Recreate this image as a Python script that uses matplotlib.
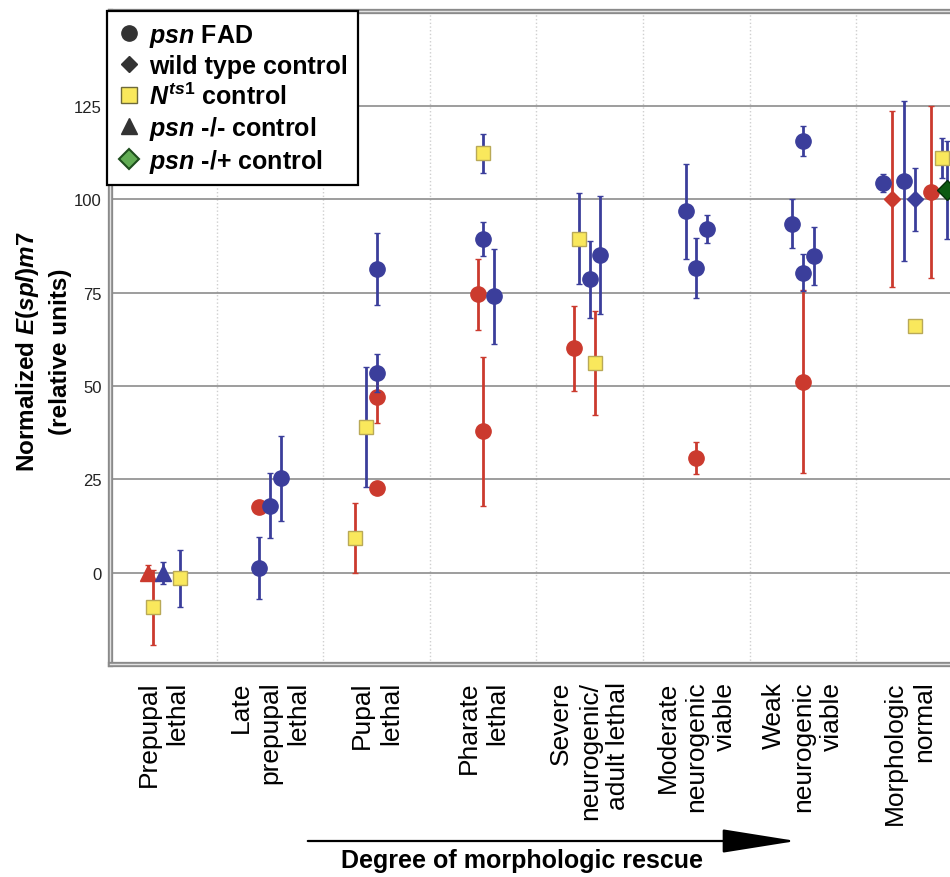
import numpy as np
import matplotlib
matplotlib.use('Agg')
import matplotlib.pyplot as plt
import matplotlib.patheffects as pe
from matplotlib.lines import Line2D

plt.rcParams['font.family'] = 'Liberation Sans'
plt.rcParams['mathtext.fontset'] = 'custom'
plt.rcParams['mathtext.it'] = 'Liberation Sans:italic:bold'
plt.rcParams['mathtext.rm'] = 'Liberation Sans:bold'
plt.rcParams['mathtext.bf'] = 'Liberation Sans:bold'

# --- data ---
categories = ['Prepupal\nlethal', 'Late\nprepupal\nlethal', 'Pupal\nlethal',
              'Pharate\nlethal', 'Severe\nneurogenic/\nadult lethal',
              'Moderate\nneurogenic\nviable', 'Weak\nneurogenic\nviable',
              'Morphologic\nnormal']
y_ticks = [0, 25, 50, 75, 100, 125]

# psn FAD, red
red_cat = [1, 2, 2, 3, 3, 4, 5, 6, 7]
red_val = [17.6, 22.6, 47.0, 74.6, 37.9, 60.1, 30.7, 51.2, 102.0]
red_err = [1.0, 0.0, 7.0, 9.5, 20.0, 11.3, 4.2, 24.4, 23.0]

# psn FAD, blue
blue_cat = [1, 1, 1, 2, 2, 3, 3, 4, 4, 5, 5, 5, 6, 6, 6, 6, 7, 7]
blue_val = [1.3, 18.0, 25.3, 53.5, 81.3, 89.3, 74.0, 78.6, 85.1,
            96.8, 81.7, 92.0, 93.5, 115.6, 80.4, 84.8, 104.4, 104.9]
blue_err = [8.2, 8.7, 11.4, 5.0, 9.6, 4.5, 12.7, 10.3, 15.7,
            12.7, 8.0, 3.7, 6.5, 4.0, 5.0, 7.8, 2.4, 21.3]

# wild type control (diamonds)
wt_red_cat, wt_red_val, wt_red_err = [7], [100.0], [23.6]
wt_blue_cat, wt_blue_val, wt_blue_err = [7], [100.0], [8.4]

# psn -/- control (triangles)
ko_red_cat, ko_red_val, ko_red_err = [0], [0.0], [2.0]
ko_blue_cat, ko_blue_val, ko_blue_err = [0], [0.0], [3.0]

# N ts1 control (squares)
nts_red_cat = [0, 2, 4]
nts_red_val = [-9.2, 9.3, 56.1]
nts_red_err = [10.0, 9.4, 13.9]
nts_blue_cat = [0, 2, 3, 4, 7, 7]
nts_blue_val = [-1.5, 39.0, 112.3, 89.5, 111.1, 66.1]
nts_blue_err = [7.7, 16.0, 5.3, 12.1, 5.3, 0.0]

# psn -/+ control (green diamond)
het_cat, het_val, het_err = [7], [102.5], [13.0]

# horizontal dodge of each point inside its category
red_dx = [-0.10, 0, 0, -0.05, 0, -0.15, 0, 0, 0.20]
blue_dx = [-0.10, 0, 0.10, 0, 0, 0, 0.10, 0, 0.10,
           -0.10, 0, 0.10, -0.10, 0, 0, 0.10, -0.25, -0.05]
wt_red_dx, wt_blue_dx = [-0.16], [0.05]
ko_red_dx, ko_blue_dx = [-0.14], [0.0]
nts_red_dx = [-0.10, -0.20, 0.05]
nts_blue_dx = [0.16, -0.10, 0.0, -0.10, 0.30, 0.05]
het_dx = [0.35]

RED = '#cb3a2e'
BLUE = '#3b3e9b'
YELLOW = '#f9e85c'

fig = plt.figure(figsize=(9.5, 8.78), dpi=100)
ax = fig.add_axes([0.1158, 0.2426, 0.8977, 0.7437])


def draw(cat, dx, val, err, marker, face, edge, ecolor, size, z):
    x = np.array(cat) + np.array(dx)
    ax.errorbar(x, val, yerr=err, fmt=marker, ms=size, mfc=face, mec=edge,
                mew=1, ecolor=ecolor, elinewidth=2, capsize=2.5, capthick=2,
                zorder=z)


draw(ko_red_cat, ko_red_dx, ko_red_val, ko_red_err, '^', RED, RED, RED, 11, 3)
draw(ko_blue_cat, ko_blue_dx, ko_blue_val, ko_blue_err, '^', BLUE, BLUE, BLUE, 11, 3)
draw(red_cat, red_dx, red_val, red_err, 'o', RED, RED, RED, 11, 3)
draw(blue_cat, blue_dx, blue_val, blue_err, 'o', BLUE, BLUE, BLUE, 11, 4)
draw(wt_red_cat, wt_red_dx, wt_red_val, wt_red_err, 'D', RED, RED, RED, 8.5, 4)
draw(wt_blue_cat, wt_blue_dx, wt_blue_val, wt_blue_err, 'D', BLUE, BLUE, BLUE, 8.5, 4)
draw(nts_red_cat, nts_red_dx, nts_red_val, nts_red_err, 's', YELLOW, '#b9a957', RED, 10.5, 5)
draw(nts_blue_cat, nts_blue_dx, nts_blue_val, nts_blue_err, 's', YELLOW, '#b9a957', BLUE, 10.5, 5)
draw(het_cat, het_dx, het_val, het_err, 'D', '#0c5a12', '#06300a', BLUE, 10, 5)

# axes, grid and frame
ax.set_xlim(-0.5, 7.5)
ax.set_ylim(-24.4, 150.4)
ax.set_yticks(y_ticks)
ax.set_yticklabels([str(t) for t in y_ticks], fontsize=12, color='#222222')
ax.set_xticks(np.arange(len(categories)))
ax.set_xticklabels(categories, rotation=90, fontsize=19, multialignment='right',
                   linespacing=1.24)
ax.set_xticks(np.arange(len(categories) - 1) + 0.5, minor=True)
ax.tick_params(axis='both', which='both', length=0)
ax.tick_params(axis='x', pad=12)
ax.tick_params(axis='y', pad=6)
ax.grid(axis='y', which='major', color='#8c8c8c', linewidth=1.2, zorder=0)
ax.grid(axis='x', which='minor', color='#cfcfcf', linewidth=1, linestyle=':')
ax.set_axisbelow(True)
for side in ax.spines.values():
    side.set_linewidth(1)
    side.set_path_effects([pe.Stroke(linewidth=3.8, foreground='#8a8a8a'),
                           pe.Stroke(linewidth=1.0, foreground='#e2e2e2')])

ax.set_ylabel('Normalized $\\mathit{E(spl)m7}$\n(relative units)',
              fontsize=17.5, fontweight='bold', linespacing=1.4)
ax.yaxis.set_label_coords(-0.045, 0.48)

# legend
gray = '#333333'
handles = [
    Line2D([], [], marker='o', ls='', ms=11, mfc=gray, mec=gray),
    Line2D([], [], marker='D', ls='', ms=8.5, mfc=gray, mec=gray),
    Line2D([], [], marker='s', ls='', ms=11, mfc=YELLOW, mec='#6e6a3a'),
    Line2D([], [], marker='^', ls='', ms=11, mfc=gray, mec=gray),
    Line2D([], [], marker='D', ls='', ms=10, mfc='#62ad55', mec='#1e4f1e', mew=1.5),
]
labels = ['$\\mathit{psn}$ FAD', 'wild type control', '$\\mathit{N}^{\\mathit{ts1}}$ control',
          '$\\mathit{psn}$ -/- control', '$\\mathit{psn}$ -/+ control']
leg = ax.legend(handles, labels, loc='upper left', bbox_to_anchor=(-0.003, 1.0),
                borderaxespad=0, prop={'weight': 'bold', 'size': 18},
                handlelength=0.9, handletextpad=0.35, borderpad=0.42,
                labelspacing=0.2, fancybox=False, framealpha=1)
leg.get_frame().set_edgecolor('black')
leg.get_frame().set_linewidth(1.6)
leg.set_zorder(10)

# arrow and caption below the axis
ax.annotate('', xy=(0.838, 0.041), xytext=(0.324, 0.041),
            xycoords='figure fraction', textcoords='figure fraction',
            arrowprops=dict(arrowstyle='-|>,head_length=4.7,head_width=0.75',
                            mutation_scale=10, lw=1.6, color='black',
                            shrinkA=0, shrinkB=0))
fig.text(0.549, 0.019, 'Degree of morphologic rescue', ha='center', va='center',
         fontsize=18, fontweight='bold')

fig.savefig('out.png', dpi=100)
